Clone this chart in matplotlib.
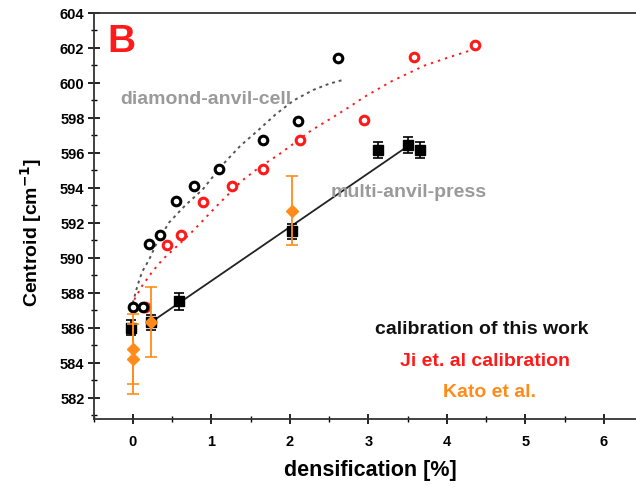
import matplotlib
matplotlib.use("Agg")
import matplotlib.pyplot as plt
from matplotlib.ticker import MultipleLocator

plt.rcParams['font.family'] = ['Liberation Sans', 'DejaVu Sans']
plt.rcParams['font.weight'] = 'bold'

# ---- data ----
dac_this_x = [0.0, 0.13, 0.21, 0.35, 0.55, 0.78, 1.10, 1.66, 2.10, 2.61]
dac_this_y = [587.2, 587.2, 590.8, 591.3, 593.25, 594.1, 595.1, 596.75, 597.8, 601.45]

dac_ji_x = [0.16, 0.44, 0.61, 0.89, 1.26, 1.66, 2.13, 2.95, 3.58, 4.36]
dac_ji_y = [587.2, 590.7, 591.3, 593.2, 594.1, 595.1, 596.75, 597.85, 601.5, 602.15]

map_this_x = [-0.02, 0.23, 0.59, 2.03, 3.13, 3.51, 3.66]
map_this_y = [586.0, 586.3, 587.5, 591.5, 596.15, 596.45, 596.15]
map_this_yerr = [0.45, 0.45, 0.5, 0.45, 0.45, 0.45, 0.45]
map_this_xerr = [0.05, 0.05, 0.05, 0.05, 0.05, 0.05, 0.05]

kato_x = [0.0, 0.0, 0.23, 2.03]
kato_y = [584.8, 584.2, 586.3, 592.7]
kato_yerr = [2.0, 2.0, 2.0, 2.0]

# fit lines
fit_dac_this_x = [0.0, 0.06, 0.12, 0.21, 0.29, 0.46, 0.67, 0.89, 1.14, 1.37, 1.60, 1.82, 2.05, 2.30, 2.50, 2.70]
fit_dac_this_y = [587.4, 588.4, 589.2, 589.9, 590.7, 592.0, 593.0, 593.9, 595.3, 596.4, 597.3, 598.2, 599.0, 599.6, 599.95, 600.2]

fit_dac_ji_x = [0.02, 0.12, 0.25, 0.38, 0.55, 0.76, 0.93, 1.10, 1.39, 1.62, 1.86, 2.10, 2.28, 2.50, 2.75, 2.95, 3.30, 3.72, 4.05, 4.33]
fit_dac_ji_y = [587.6, 588.4, 589.2, 589.9, 590.6, 591.5, 592.3, 593.1, 594.4, 595.2, 595.9, 596.7, 597.3, 597.9, 598.6, 599.2, 600.1, 601.0, 601.5, 601.9]

fit_map_x = [0.23, 3.51]
fit_map_y = [586.3, 596.4]

ORANGE = '#ff8c1a'
RED = '#ff1a1a'
GRAY = '#9a9a9a'

fig = plt.figure(figsize=(6.36, 4.89), dpi=100)
ax = fig.add_axes([93.5 / 636, 1 - 419.5 / 489, 1 - 93.5 / 636, (419.5 - 14) / 489])

# fit curves
ax.plot(fit_dac_this_x, fit_dac_this_y, linestyle=(0, (1.5, 2.0)), color='#555555', lw=1.4, zorder=1)
ax.plot(fit_dac_ji_x, fit_dac_ji_y, linestyle=(0, (1.2, 2.6)), color=RED, lw=1.4, zorder=1)
ax.plot(fit_map_x, fit_map_y, color='#222222', lw=1.3, zorder=1)

# DAC points
ax.plot(dac_ji_x, dac_ji_y, 'o', ms=6.2, mfc='white', mec=RED, mew=2.2, ls='none', zorder=3)
ax.plot(dac_this_x, dac_this_y, 'o', ms=6.2, mfc='white', mec='black', mew=2.2, ls='none', zorder=3)

# multi-anvil-press, this work
ax.errorbar(map_this_x, map_this_y, yerr=map_this_yerr, xerr=map_this_xerr, fmt='s', ms=6.5,
            color='black', ecolor='black', elinewidth=1.2, capsize=3.5, capthick=1.2, zorder=4)
# Kato et al.
ax.errorbar(kato_x, kato_y, yerr=kato_yerr, fmt='D', ms=6.5, color=ORANGE, ecolor=ORANGE,
            elinewidth=1.3, capsize=4, capthick=1.2, zorder=5)

ax.set_xlim(-0.5, 6.41)
ax.set_ylim(580.8, 604)
ax.xaxis.set_major_locator(MultipleLocator(1))
ax.xaxis.set_minor_locator(MultipleLocator(0.5))
ax.yaxis.set_major_locator(MultipleLocator(2))
ax.yaxis.set_minor_locator(MultipleLocator(1))
ax.tick_params(axis='y', which='major', direction='inout', length=9, width=1.2, labelsize=10.5, pad=2)
ax.tick_params(axis='y', which='minor', direction='inout', length=5, width=1.0)
ax.tick_params(axis='x', which='major', direction='inout', length=7, width=1.2, labelsize=10.5, pad=8)
ax.tick_params(axis='x', which='minor', direction='inout', length=4, width=1.0)
for lbl in ax.get_xticklabels() + ax.get_yticklabels():
    lbl.set_fontweight('bold')

for side in ['left', 'bottom', 'top']:
    ax.spines[side].set_linewidth(1.3)
    ax.spines[side].set_color('#333333')
ax.spines['right'].set_visible(False)

ax.set_xlabel('densification [%]', fontsize=15.5, fontweight='bold')
ax.set_ylabel('Centroid [cm$^{\\mathbf{-1}}$]', fontsize=14, fontweight='bold')
ax.xaxis.set_label_coords(0.511, -0.1)
ax.yaxis.set_label_coords(-0.091, 0.462)

ax.text(-0.15, 602.4, 'B', color=RED, fontsize=28, fontweight='bold', ha='center', va='center')
ax.text(0.93, 599.1, 'diamond-anvil-cell', color=GRAY, fontsize=14, fontweight='bold', ha='center', va='center')
ax.text(3.52, 593.8, 'multi-anvil-press', color=GRAY, fontsize=14, fontweight='bold', ha='center', va='center')
ax.text(4.45, 585.95, 'calibration of this work', color='#111111', fontsize=14, fontweight='bold', ha='center', va='center')
ax.text(4.49, 584.1, 'Ji et. al calibration', color=RED, fontsize=14, fontweight='bold', ha='center', va='center')
ax.text(4.55, 582.35, 'Kato et al.', color=ORANGE, fontsize=14, fontweight='bold', ha='center', va='center')

fig.savefig('out.png', dpi=100)
